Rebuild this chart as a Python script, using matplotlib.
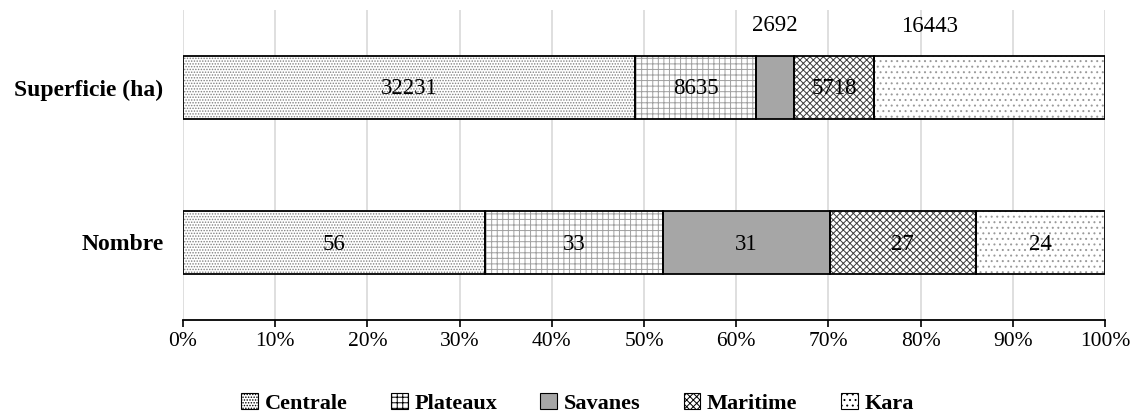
import numpy as np
import matplotlib
matplotlib.use('Agg')
import matplotlib.pyplot as plt
from matplotlib.patches import Patch

plt.rcParams['font.family'] = ['Liberation Serif', 'DejaVu Serif']
plt.rcParams['hatch.linewidth'] = 0.7

# ── data ──────────────────────────────────────────────────────────────────────
categories = ["Nombre", "Superficie (ha)"]
regions = ["Centrale", "Plateaux", "Savanes", "Maritime", "Kara"]
nombre = [56, 33, 31, 27, 24]
superficie = [32231, 8635, 2692, 5718, 16443]

# style per region: (facecolor, hatch, hatch colour)
styles = [("white", "......", "#808080"),
          ("white", "+++", "#a0a0a0"),
          ("#a6a6a6", "", "#a6a6a6"),
          ("white", "xxxxx", "#3c3c3c"),
          ("white", "...", "#9a9a9a")]

vals = np.array([nombre, superficie], dtype=float)      # [2, 5]
pct = vals / vals.sum(1, keepdims=True) * 100
left = np.cumsum(pct, axis=1) - pct

fig = plt.figure(figsize=(11.39, 4.19), dpi=100)
ax = fig.add_axes([0.1607, 0.2363, 0.8095, 0.7400])

y = np.arange(len(categories))
h = 0.41
for i, (fc, hatch, hc) in enumerate(styles):
    ax.barh(y, pct[:, i], left=left[:, i], height=h, color=fc, hatch=hatch,
            edgecolor=hc, linewidth=0, zorder=2)
    ax.barh(y, pct[:, i], left=left[:, i], height=h, fill=False,
            edgecolor="black", linewidth=1.3, zorder=3)

# value labels (two small Superficie segments are labelled above the bar)
FS = 16.5
for r in range(2):
    for i in range(5):
        cx = left[r, i] + pct[r, i] / 2
        txt = f"{int(vals[r, i])}"
        if r == 1 and i == 2:
            ax.text(cx, y[r] + 0.40, txt, ha="center", va="center", fontsize=FS, zorder=4)
        elif r == 1 and i == 4:
            ax.text(81.0, y[r] + 0.39, txt, ha="center", va="center", fontsize=FS, zorder=4)
        else:
            ax.text(cx, y[r] - 0.01, txt, ha="center", va="center", fontsize=FS, zorder=4)

ax.set_xlim(0, 100)
ax.set_ylim(-0.5, 1.5)
ax.set_xticks(np.arange(0, 101, 10))
ax.set_xticklabels([f"{t}%" for t in range(0, 101, 10)], fontsize=15.5)
ax.set_yticks(y)
ax.set_yticklabels(categories, fontsize=17, fontweight="bold")
ax.tick_params(axis="y", length=0, pad=14)
ax.tick_params(axis="x", length=5, width=1.2, pad=4)
ax.grid(axis="x", color="#d9d9d9", lw=1.2, zorder=0)
for s in ["top", "right", "left"]:
    ax.spines[s].set_visible(False)
ax.spines["bottom"].set_linewidth(1.3)

handles = [Patch(facecolor=fc, hatch=hatch, edgecolor="black", linewidth=0.8)
           for fc, hatch, hc in styles]
fig.legend(handles, regions, loc="lower center", bbox_to_anchor=(0.507, -0.035),
           ncol=5, frameon=False, prop={"weight": "bold", "size": 16},
           handlelength=0.75, handleheight=0.75, handletextpad=0.3, columnspacing=1.95)

plt.savefig("out.png", dpi=100)
plt.close()
